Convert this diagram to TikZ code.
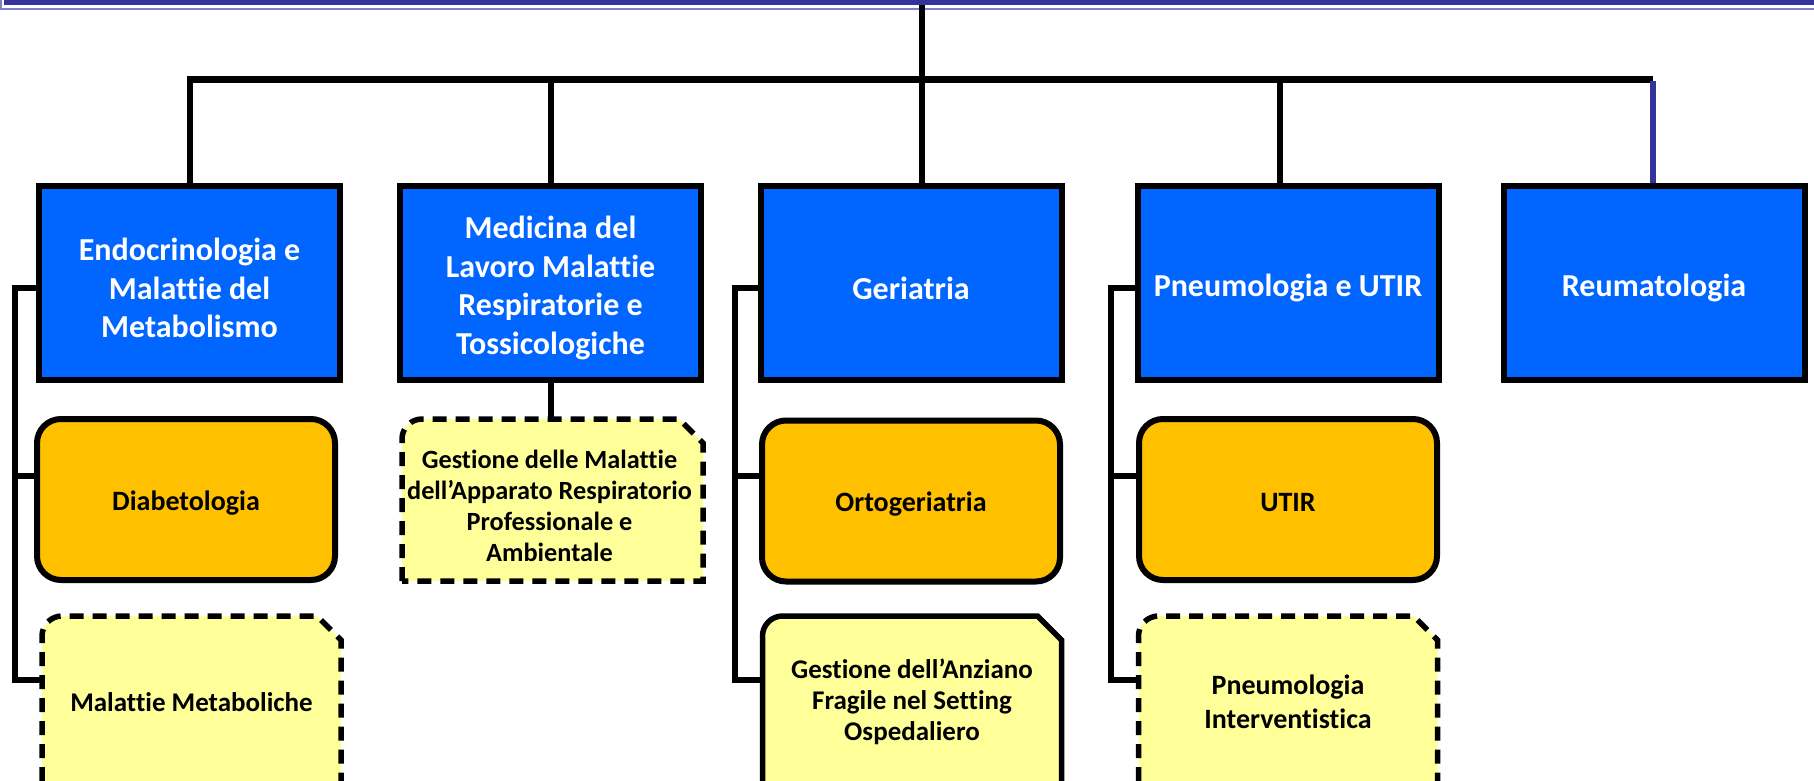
\documentclass[tikz,border=0pt]{standalone}
\usepackage{fontspec}
\setmainfont{Carlito}[Ligatures={NoCommon,NoContextual}]
\usetikzlibrary{calc,backgrounds}
\definecolor{hdrblue}{HTML}{333399}
\definecolor{hdrlight}{HTML}{8080C8}
\definecolor{boxblue}{HTML}{0066FF}
\definecolor{boxorange}{HTML}{FFC000}
\definecolor{boxyellow}{HTML}{FFFF99}
% closed snipped box (rounded top-left, snipped top-right)
\newcommand\snipclosed[2]{%
  \path[#2] (#1.south west) -- ($(#1.north west)+(0,20)$)
    .. controls ($(#1.north west)+(0,9)$) and ($(#1.north west)+(9,0)$) .. ($(#1.north west)+(20,0)$)
    -- ($(#1.north east)+(-24,0)$) -- ($(#1.north east)+(0,24)$) -- (#1.south east) -- cycle;}
% open snipped box running off the bottom edge
\newcommand\snipopen[2]{%
  \fill[boxyellow] (#1.west |- floor) -- ($(#1.north west)+(0,20)$)
    .. controls ($(#1.north west)+(0,9)$) and ($(#1.north west)+(9,0)$) .. ($(#1.north west)+(20,0)$)
    -- ($(#1.north east)+(-24,0)$) -- ($(#1.north east)+(0,24)$) -- (#1.east |- floor) -- cycle;
  \path[#2,fill=none] (#1.west |- floor) -- ($(#1.north west)+(0,20)$)
    .. controls ($(#1.north west)+(0,9)$) and ($(#1.north west)+(9,0)$) .. ($(#1.north west)+(20,0)$)
    -- ($(#1.north east)+(-24,0)$) -- ($(#1.north east)+(0,24)$) -- (#1.east |- floor);}
\begin{document}
\begin{tikzpicture}[x=1pt,y=-1pt,
  unit/.style={draw=black, line width=6pt, fill=boxblue,
    minimum width=301pt, minimum height=194pt, inner sep=0pt},
  unittext/.style={text=white, font=\bfseries\fontsize{32}{38.5}\selectfont,
    align=center, yshift=-5pt, inner sep=0pt},
  service/.style={draw=black, line width=6pt, fill=boxorange, rounded corners=24pt,
    minimum width=298pt, minimum height=161pt, inner sep=0pt},
  servicetext/.style={font=\bfseries\fontsize{28}{34}\selectfont, align=center,
    yshift=-3.5pt, inner sep=0pt},
  project/.style={align=center, font=\bfseries\fontsize{27}{31}\selectfont,
    minimum width=299pt, inner sep=0pt, outer sep=0pt},
  projecttext/.style={align=center, font=\bfseries\fontsize{26.3}{31}\selectfont,
    yshift=-6pt, xshift=-3pt, inner sep=0pt},
  snipdash/.style={draw=black, line width=5.5pt, fill=boxyellow, dash pattern=on 14pt off 9pt},
  snipsolid/.style={draw=black, line width=5.5pt, fill=boxyellow},
  conn/.style={draw=black, line width=6pt},
  bus/.style={draw=black, line width=7pt},
  bluedrop/.style={draw=hdrblue, line width=6pt}]
\useasboundingbox (0,0) rectangle (1814,781);
\coordinate (floor) at (0,781);

% header band
\fill[hdrblue] (4,0) rectangle (1814,5.5);
\draw[hdrlight, line width=2pt] (1,0) -- (1,9) -- (1814,9);

% top level units
\node[unit, label={[unittext]center:{Endocrinologia e\\Malattie del\\Metabolismo}}] (b1) at (189.5,283) {};
\node[unit, label={[unittext]center:{Medicina del\\Lavoro Malattie\\Respiratorie e\\Tossicologiche}}] (b2) at (550.5,283) {};
\node[unit, label={[unittext]center:{Geriatria}}] (b3) at (911,283) {};
\node[unit, label={[unittext]center:{Pneumologia e UTIR}}] (b4) at (1288,283) {};
\node[unit, label={[unittext]center:{Reumatologia}}] (b5) at (1654,283) {};

% services
\node[service, label={[servicetext]center:{Diabetologia}}] (d1) at (186,499.5) {};
\node[service, label={[servicetext]center:{Ortogeriatria}}] (o3) at (911,501) {};
\node[service, label={[servicetext]center:{UTIR}}] (u4) at (1288,499.5) {};

% projects
\node[project, minimum width=301pt, minimum height=162pt,
  label={[projecttext]center:{Gestione delle Malattie\\dell’Apparato Respiratorio\\Professionale e\\Ambientale}}] (g2) at (552.5,500) {};
\node[project, minimum height=172pt] (m1) at (191.5,702) {Malattie Metaboliche};
\node[project, minimum height=172pt] (a3) at (912,702) {Gestione dell’Anziano\\Fragile nel Setting\\Ospedaliero};
\node[project, minimum height=172pt, font=\bfseries\fontsize{28}{33.5}\selectfont] (p4) at (1288,702)
  {Pneumologia\\Interventistica};

\begin{pgfonlayer}{background}
  \snipclosed{g2}{snipdash}
  \snipopen{m1}{snipdash}
  \snipopen{a3}{snipsolid}
  \snipopen{p4}{snipdash}
\end{pgfonlayer}

% trunk and bus
\coordinate (root) at (922,5);
\coordinate (hub) at (922,79.5);
\coordinate (busL) at (187,79.5);
\coordinate (busR) at (1652.5,79.5);
\coordinate (j4) at (1280,79.5);
\draw[conn] (root) -- (hub);
\draw[conn] (b1.north |- busL) -- (b1.north);
\draw[conn] (b2.north |- busL) -- (b2.north);
\draw[conn] (hub) -- (hub |- b3.north);
\draw[conn] (j4) -- (j4 |- b4.north);
\draw[bus] (busL) -- (busR);
\draw[bluedrop] ($(busR)+(0,2)$) -- (busR |- b5.north);

% left brackets
\coordinate (v1a) at (14.5,288);
\coordinate (v1b) at (14.5,475.5);
\coordinate (v1c) at (14.5,680);
\draw[conn] (b1.west |- v1a) -- (v1a) -- (v1c) -- (m1.west |- v1c);
\draw[conn] (v1b) -- (d1.west |- v1b);

\coordinate (v3a) at (735,288);
\coordinate (v3b) at (735,475.5);
\coordinate (v3c) at (735,680);
\draw[conn] (b3.west |- v3a) -- (v3a) -- (v3c) -- (a3.west |- v3c);
\draw[conn] (v3b) -- (o3.west |- v3b);

\coordinate (v4a) at (1111,288);
\coordinate (v4b) at (1111,475.5);
\coordinate (v4c) at (1111,680);
\draw[conn] (b4.west |- v4a) -- (v4a) -- (v4c) -- (p4.west |- v4c);
\draw[conn] (v4b) -- (u4.west |- v4b);

% unit 2 to its project
\draw[conn] (b2.south) -- (g2.north -| b2.south);
\end{tikzpicture}
\end{document}
